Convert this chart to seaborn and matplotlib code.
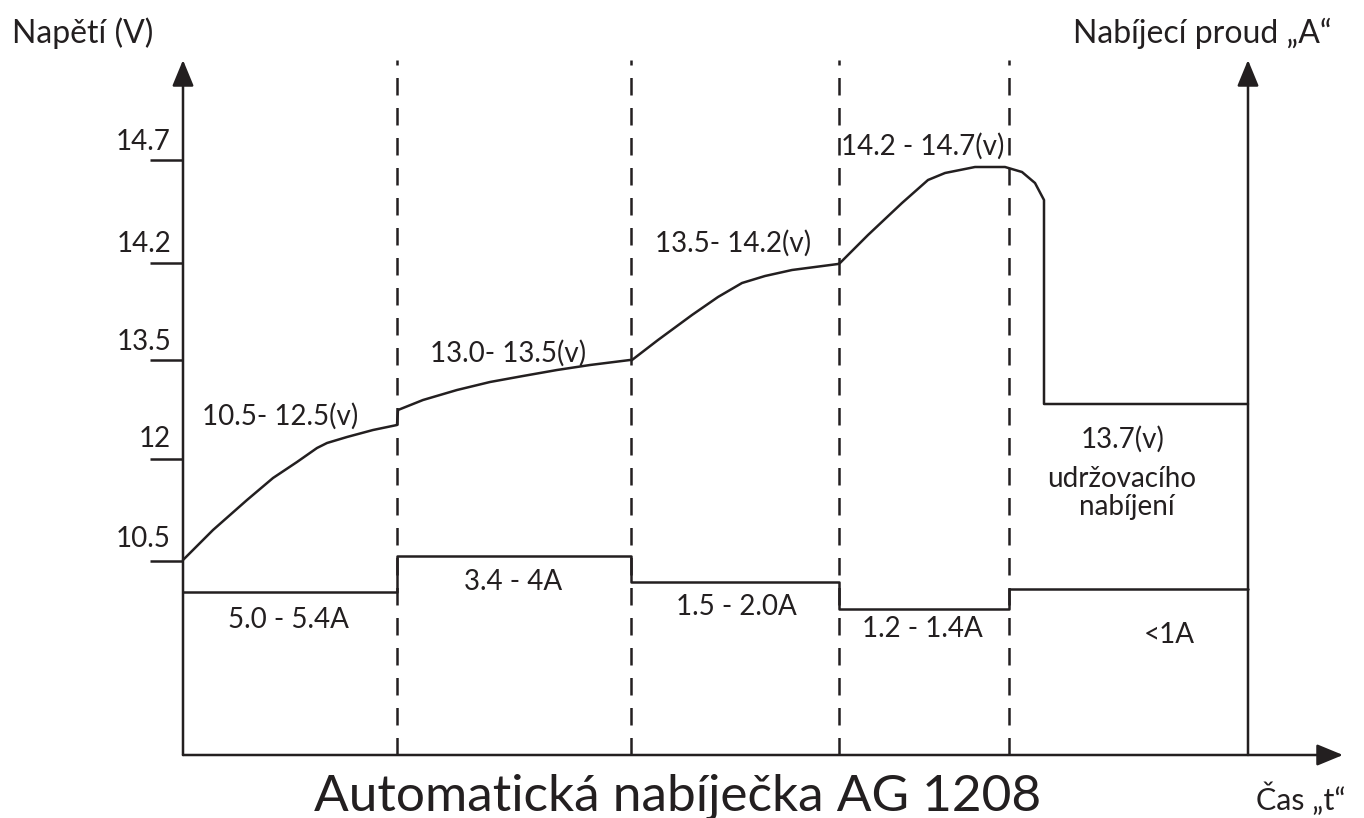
import seaborn as sns
import matplotlib.pyplot as plt

sns.set_theme(style='white')
plt.rcParams['font.family'] = ['Lato', 'DejaVu Sans']

INK = '#231f20'

# time in arbitrary units, voltage/current on the diagram's own level scale
phase_edges = [21.4, 44.8, 65.6, 82.6]
t_end = 106.5
top = 6.95
x_arrow = 116.0

volt_t = [0, 3.0, 6.4, 9.0, 11.4, 13.4, 14.4, 16.4, 19.0, 21.4,
          21.5, 24.0, 27.4, 30.7, 34.0, 37.4, 40.7, 44.7,
          44.9, 47.5, 50.9, 53.5, 55.9, 58.2, 60.9, 65.5,
          65.7, 68.5, 71.9, 74.5, 76.2, 79.2, 82.2, 83.9, 85.2, 86.1, 86.1, 106.5]
volt_y = [1.95, 2.25, 2.55, 2.77, 2.93, 3.07, 3.12, 3.18, 3.25, 3.30,
          3.45, 3.55, 3.65, 3.73, 3.79, 3.85, 3.90, 3.95,
          3.95, 4.15, 4.40, 4.58, 4.72, 4.79, 4.85, 4.91,
          4.92, 5.20, 5.52, 5.75, 5.82, 5.88, 5.88, 5.83, 5.72, 5.55, 3.51, 3.51]

amp_t = [0, 21.4, 44.8, 65.6, 82.6, 106.5]
amp_y = [1.63, 1.99, 1.73, 1.46, 1.66, 1.66]

tick_pos = [1.94, 2.96, 3.95, 4.92, 5.95]
tick_labels = ['10.5', '12', '13.5', '14.2', '14.7']
tick_label_y = [2.08, 3.08, 4.05, 5.03, 6.05]

volt_labels = ['10.5- 12.5(v)', '13.0- 13.5(v)', '13.5- 14.2(v)', '14.2 - 14.7(v)']
volt_label_t = [9.7, 32.5, 55.0, 74.0]
volt_label_y = [3.30, 3.93, 5.03, 6.00]

amp_labels = ['5.0 - 5.4A', '3.4 - 4A', '1.5 - 2.0A', '1.2 - 1.4A', '<1A']
amp_label_t = [10.5, 33.0, 55.3, 73.9, 98.6]
amp_label_y = [1.27, 1.65, 1.40, 1.18, 1.12]

float_lines = ['13.7(v)', 'udržovacího', 'nabíjení']
float_t = [94.0, 93.9, 94.4]
float_y = [3.07, 2.68, 2.40]

fig = plt.figure(figsize=(13.64, 8.18), dpi=100)
ax = fig.add_axes([0, 0, 1, 1])
ax.set_xlim(-18.3, 118.1)
ax.set_ylim(-0.63, 7.55)
ax.axis('off')

# phase separators
ax.vlines(phase_edges, 0, top, colors=INK, lw=1.8, linestyles=(0, (7, 5)))

# voltage curve and charging current
sns.lineplot(x=volt_t, y=volt_y, sort=False, estimator=None, color=INK, lw=1.8, ax=ax)
sns.lineplot(x=amp_t, y=amp_y, sort=False, estimator=None, color=INK, lw=1.8,
             drawstyle='steps-post', ax=ax)

# axes with arrows
arrow = dict(arrowstyle='-|>,head_length=0.8,head_width=0.33', lw=1.8, color=INK,
             shrinkA=0, shrinkB=0, mutation_scale=20)
ax.annotate('', xy=(0, top), xytext=(0, 0), arrowprops=arrow)
ax.annotate('', xy=(t_end, top), xytext=(t_end, 0), arrowprops=arrow)
ax.annotate('', xy=(x_arrow, 0), xytext=(0, 0), arrowprops=arrow)

# voltage ticks
ax.hlines(tick_pos, -3.3, 0, colors=INK, lw=1.8)
for lab, y in zip(tick_labels, tick_label_y):
    ax.text(-1.2, y, lab, ha='right', va='baseline', fontsize=20, color=INK)

for lab, t, y in zip(volt_labels, volt_label_t, volt_label_y):
    ax.text(t, y, lab, ha='center', va='baseline', fontsize=20, color=INK)
for lab, t, y in zip(amp_labels, amp_label_t, amp_label_y):
    ax.text(t, y, lab, ha='center', va='baseline', fontsize=20, color=INK)
for lab, t, y in zip(float_lines, float_t, float_y):
    ax.text(t, y, lab, ha='center', va='baseline', fontsize=20, color=INK)

ax.text(-17.1, 7.12, 'Napětí (V)', ha='left', va='baseline', fontsize=23, color=INK)
ax.text(114.9, 7.12, 'Nabíjecí proud „A“', ha='right', va='baseline', fontsize=23, color=INK)
ax.text(111.8, -0.55, 'Čas „t“', ha='center', va='baseline', fontsize=22, color=INK)
ax.text(49.5, -0.55, 'Automatická nabíječka AG 1208', ha='center', va='baseline', fontsize=37,
        color=INK)

fig.savefig('out.png', dpi=100)
